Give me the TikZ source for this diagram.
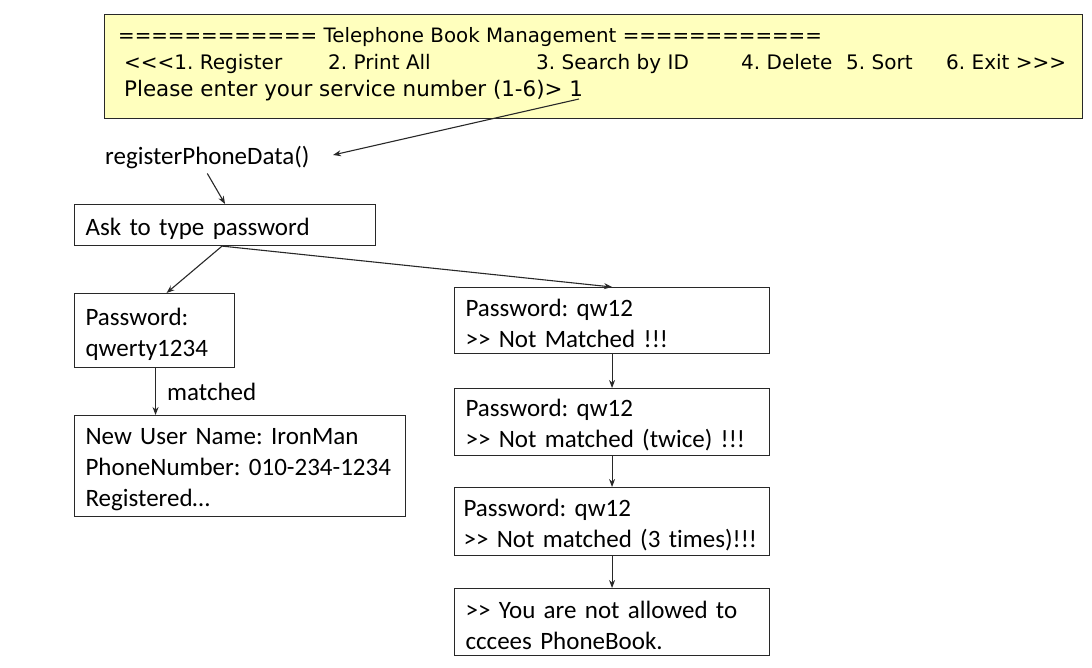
\documentclass[tikz,border=0pt]{standalone}
\usepackage{fontspec}
\setmainfont[Ligatures=NoCommon]{Carlito}
\newfontfamily\menufont{DejaVu Sans}
\usetikzlibrary{arrows.meta}
\definecolor{menuyellow}{RGB}{255,255,190}
\definecolor{edge}{RGB}{40,40,40}
\frenchspacing
\hfuzz=50pt
\tikzset{
  box/.style={draw=edge, line width=1.1pt, rectangle, anchor=north west, align=left,
    inner xsep=11pt, inner ysep=0pt, font=\fontsize{25}{31}\selectfont,
    execute at begin node={\rule{0pt}{24pt}}},
  menutext/.style={anchor=base west, inner sep=0pt, font=\menufont\fontsize{20}{26}\selectfont},
  conn/.style={draw=edge, line width=1.1pt, -{Stealth[length=8pt,width=6pt]}},
}
\begin{document}
\begin{tikzpicture}[x=1pt,y=-1pt]
\useasboundingbox (0,0) rectangle (1092,668);
% menu box
\node[draw=edge, line width=1.1pt, fill=menuyellow, anchor=north west, minimum width=978pt, minimum height=104pt, inner sep=0pt] (menu) at (104,14) {};
\node[menutext, font=\menufont\fontsize{19.8}{26}\selectfont] (m1) at (118,43) {============ Telephone Book Management ============};
\node[menutext] (m2a) at (124,70) {<{}<{}<1. Register};
\node[menutext] (m2b) at (328,70) {2. Print All};
\node[menutext] (m2c) at (536,70) {3. Search by ID};
\node[menutext] (m2d) at (741,70) {4. Delete};
\node[menutext] (m2e) at (846,70) {5. Sort};
\node[menutext] (m2f) at (946,70) {6. Exit >{}>{}>};
\node[menutext, font=\menufont\fontsize{21.4}{26}\selectfont] (m3) at (124,97) {Please enter your service number (1-6)> 1};
\coordinate (one) at (579,99);
% register
\node[anchor=west, inner sep=4pt, font=\fontsize{25}{31}\selectfont] (reg) at (101,158) {registerPhoneData()};
\coordinate (regin) at (333,155);
\draw[conn] (one) -- (regin);
% ask
\node[box, minimum width=301pt, minimum height=41pt, text width=279pt] (ask) at (74,204) {Ask to type password};
\draw[conn] (reg.south) -- (ask.north);
% password ok
\node[box, minimum width=160pt, minimum height=74pt, text width=138pt] (pw) at (74,293) {Password:\\qwerty1234};
\node[box, minimum width=331pt, minimum height=101pt, text width=309pt] (nu) at (74,415) {New User Name: IronMan\\PhoneNumber: 010-234-1234\\Registered\dots};
\draw[conn] ([xshift=1pt]pw.south) -- ([xshift=1pt]pw.south |- nu.north);
\node[anchor=base west, inner sep=0pt, font=\fontsize{25}{31}\selectfont] (mlab) at (167,400) {matched};
% right chain
\node[box, minimum width=315pt, minimum height=66pt, text width=293pt] (n1) at (454,287) {Password: qw12\\>{}> Not Matched !!!};
\node[box, minimum width=315pt, minimum height=67pt, text width=293pt] (n2) at (454,388) {Password: qw12\\>{}> Not matched (twice) !!!};
\node[box, minimum width=315pt, minimum height=68pt, inner xsep=9pt, text width=297pt] (n3) at (454,487) {Password: qw12\\\mbox{>{}> Not matched (3 times)!!!}};
\node[box, minimum width=315pt, minimum height=67pt, text width=293pt] (n4) at (454,588) {>{}> You are not allowed to\\cccees PhoneBook.};
\draw[conn] ([xshift=-3pt]ask.south) -- ([xshift=12pt]pw.north);
\draw[conn] ([xshift=-3pt]ask.south) -- (n1.north);
\draw[conn] (n1.south) -- (n2.north);
\draw[conn] (n2.south) -- (n3.north);
\draw[conn] (n3.south) -- (n4.north);
\end{tikzpicture}
\end{document}
